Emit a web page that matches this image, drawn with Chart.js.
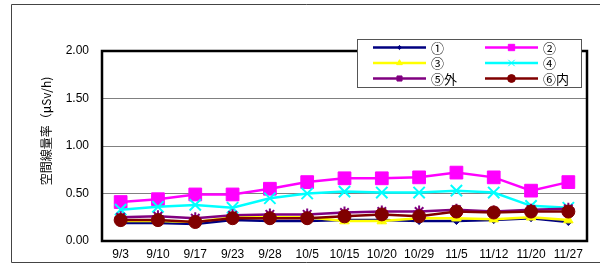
<!DOCTYPE html>
<html>
<head>
<meta charset="utf-8">
<script src="https://cdn.jsdelivr.net/npm/chart.js@4"></script>
<style>
  html, body { margin: 0; padding: 0; background: #fff; }
  #wrap { width: 600px; height: 265px; position: relative; }
</style>
</head>
<body>
<div id="wrap"><canvas id="kukanChart" width="600" height="265"></canvas></div>
<script>
// 測定日
const dates = ['9/3', '9/10', '9/17', '9/23', '9/28', '10/5', '10/15', '10/20', '10/29', '11/5', '11/12', '11/20', '11/27'];

// 各地点の空間線量率 (μSv/h)
const point1 = [0.19, 0.19, 0.18, 0.22, 0.21, 0.21, 0.22, 0.22, 0.21, 0.21, 0.22, 0.24, 0.20];
const point2 = [0.41, 0.44, 0.49, 0.49, 0.55, 0.62, 0.66, 0.66, 0.67, 0.72, 0.67, 0.53, 0.62];
const point3 = [0.21, 0.21, 0.20, 0.25, 0.25, 0.25, 0.21, 0.21, 0.24, 0.24, 0.23, 0.25, 0.22];
const point4 = [0.33, 0.36, 0.38, 0.35, 0.45, 0.50, 0.52, 0.51, 0.51, 0.53, 0.51, 0.37, 0.35];
const point5 = [0.25, 0.26, 0.24, 0.27, 0.28, 0.28, 0.30, 0.31, 0.31, 0.33, 0.31, 0.33, 0.34];
const point6 = [0.22, 0.22, 0.20, 0.24, 0.24, 0.24, 0.26, 0.28, 0.26, 0.31, 0.30, 0.31, 0.31];

const yTicks = [0, 0.5, 1.0, 1.5, 2.0];
const yTitle = '空間線量率（μSv/h)';

const fontNum = '"Liberation Sans", Arial, sans-serif';
const fontJp = '"Noto Sans CJK JP", sans-serif';

function serie(label, data, color, style, radius, order) {
    return {
        label: label,
        data: data,
        borderColor: color,
        backgroundColor: color,
        pointBackgroundColor: color,
        pointBorderColor: color,
        pointStyle: style,
        pointRadius: radius,
        pointBorderWidth: style === 'crossRot' || style === 'star' ? 2 : 1,
        borderWidth: 2.5,
        tension: 0,
        fill: false,
        order: order
    };
}

const datasets = [
    serie('①', point1, '#000080', 'rectRot', 3.5, 6),
    serie('②', point2, '#ff00ff', 'rect', 9, 5),
    serie('③', point3, '#ffff00', 'triangle', 5.5, 4),
    serie('④', point4, '#00ffff', 'crossRot', 8, 3),
    serie('⑤外', point5, '#800080', 'star', 6, 2),
    serie('⑥内', point6, '#800000', 'circle', 6.5, 1)
];

// 外枠・プロット枠・軸タイトル・凡例
const framePlugin = {
    id: 'frame',
    beforeDraw(chart) {
        const ctx = chart.ctx;
        ctx.save();
        ctx.fillStyle = '#fff';
        ctx.fillRect(0, 0, chart.width, chart.height);
        ctx.strokeStyle = '#444';
        ctx.lineWidth = 1;
        ctx.beginPath();
        ctx.moveTo(chart.width + 2, 4.5);
        ctx.lineTo(11.5, 4.5);
        ctx.lineTo(11.5, 262.5);
        ctx.lineTo(chart.width + 2, 262.5);
        ctx.stroke();
        // 縦軸タイトル
        ctx.translate(46, 131);
        ctx.rotate(-Math.PI / 2);
        ctx.fillStyle = '#000';
        ctx.font = '12px ' + fontJp;
        ctx.textAlign = 'center';
        ctx.textBaseline = 'middle';
        ctx.fillText(yTitle, 0, 0);
        ctx.restore();
    },
    afterDatasetsDraw(chart) {
        const ctx = chart.ctx;
        const a = chart.chartArea;
        ctx.save();
        ctx.strokeStyle = '#000';
        ctx.lineWidth = 2.5;
        ctx.strokeRect(a.left, a.top, a.right - a.left, a.bottom - a.top);
        ctx.restore();
    },
    afterDraw(chart) {
        const ctx = chart.ctx;
        ctx.save();
        ctx.fillStyle = '#fff';
        ctx.fillRect(357, 39, 224, 48);
        ctx.strokeStyle = '#555';
        ctx.lineWidth = 1;
        ctx.strokeRect(357.5, 39.5, 224, 48);
        const cols = [373, 485];
        const rows = [47.5, 63, 78.5];
        chart.data.datasets.forEach((ds, i) => {
            const x = cols[i % 2];
            const y = rows[Math.floor(i / 2)];
            ctx.strokeStyle = ds.borderColor;
            ctx.lineWidth = 2.5;
            ctx.beginPath();
            ctx.moveTo(x, y);
            ctx.lineTo(x + 53, y);
            ctx.stroke();
            ctx.fillStyle = ds.pointBackgroundColor;
            ctx.strokeStyle = ds.pointBorderColor;
            ctx.lineWidth = 1;
            Chart.helpers.drawPoint(ctx, {
                pointStyle: ds.pointStyle === 'star' ? 'rect' : ds.pointStyle,
                radius: Math.min(ds.pointRadius * 0.6, 4.5),
                borderWidth: 1
            }, x + 26.5, y);
            ctx.fillStyle = '#000';
            ctx.font = '13px ' + fontJp;
            ctx.textBaseline = 'middle';
            ctx.textAlign = 'left';
            ctx.fillText(ds.label, x + 58, y + 0.5);
        });
        ctx.restore();
    }
};

const ctx = document.getElementById('kukanChart').getContext('2d');
const chart = new Chart(ctx, {
    type: 'line',
    data: { labels: dates, datasets: datasets },
    options: {
        responsive: false,
        animation: false,
        layout: { padding: { left: 37, top: 51, right: 13, bottom: 0 } },
        plugins: {
            legend: { display: false },
            tooltip: { enabled: false }
        },
        scales: {
            x: {
                offset: true,
                grid: { display: false, drawTicks: false },
                border: { display: false },
                ticks: {
                    color: '#000',
                    font: { family: fontNum, size: 12 },
                    padding: 6,
                    maxRotation: 0,
                    autoSkip: false
                },
                afterFit(scale) { scale.height = 24; }
            },
            y: {
                min: 0,
                max: 2,
                afterBuildTicks(scale) {
                    scale.ticks = yTicks.map(v => ({ value: v }));
                },
                grid: { color: '#808080', lineWidth: 1, drawTicks: false },
                border: { display: false },
                ticks: {
                    color: '#000',
                    font: { family: fontNum, size: 12 },
                    padding: 13,
                    callback: v => Number(v).toFixed(2)
                },
                afterFit(scale) { scale.width = 65; }
            }
        }
    },
    plugins: [framePlugin]
});
</script>
</body>
</html>
